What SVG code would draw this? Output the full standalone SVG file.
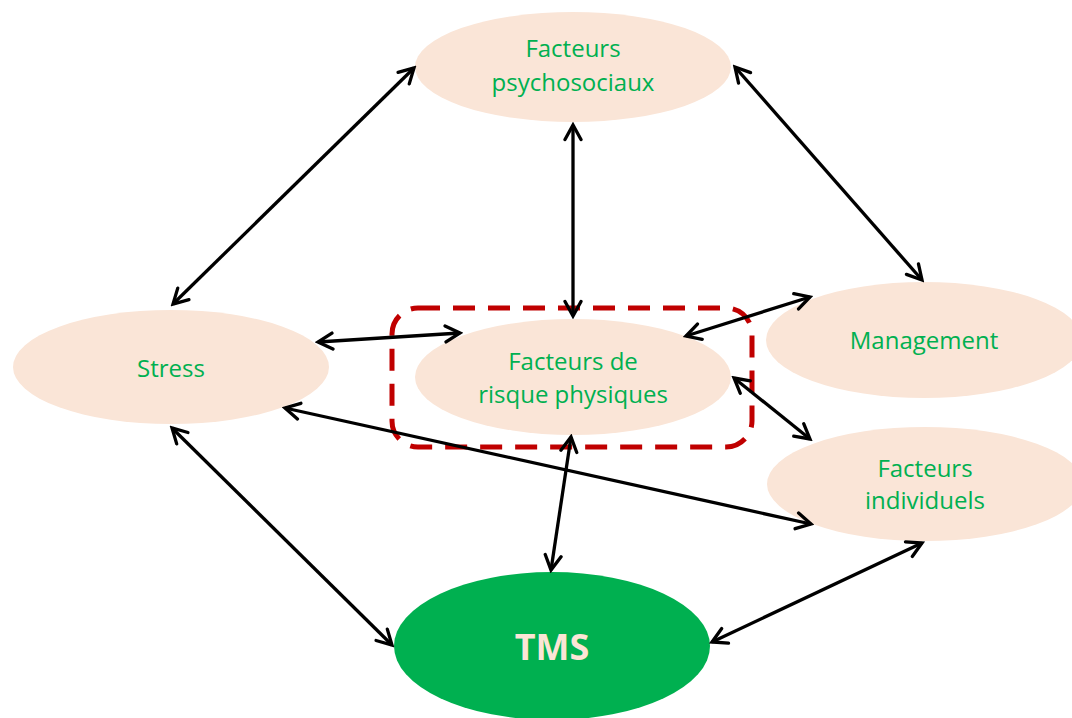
<svg xmlns="http://www.w3.org/2000/svg" width="1072" height="718" viewBox="0 0 1072 718">
<style>
.node{fill:#FAE5D7}
.lbl{font-family:"Open Sans","Liberation Sans",sans-serif;font-size:24px;fill:#00B050;text-anchor:middle}
.tms{font-family:"Open Sans","Liberation Sans",sans-serif;font-size:36px;font-weight:bold;fill:#FBE5D6;text-anchor:middle}
.conn line{stroke:#000;stroke-width:3.3;fill:none;marker-start:url(#ah);marker-end:url(#ah)}
</style>
<defs>
<marker id="ah" viewBox="0 0 20 20" markerWidth="20" markerHeight="20" refX="17" refY="10" markerUnits="userSpaceOnUse" orient="auto-start-reverse">
<path d="M2.5,2 L17,10 L2.5,18" fill="none" stroke="#000" stroke-width="3.3" stroke-linecap="round" stroke-linejoin="miter"/>
</marker>
</defs>
<rect width="1072" height="718" fill="#fff"/>
<g id="psycho"><ellipse class="node" cx="573" cy="67" rx="158" ry="55"/><text class="lbl" x="573" y="57">Facteurs</text><text class="lbl" x="573" y="91">psychosociaux</text></g>
<g id="stress"><ellipse class="node" cx="171" cy="367" rx="158" ry="57"/><text class="lbl" x="171" y="377">Stress</text></g>
<g id="physique"><ellipse class="node" cx="573" cy="377" rx="158" ry="58"/><text class="lbl" x="573" y="370">Facteurs de</text><text class="lbl" x="573" y="403">risque physiques</text></g>
<g id="management"><ellipse class="node" cx="924" cy="340" rx="158" ry="58"/><text class="lbl" x="924" y="349">Management</text></g>
<g id="individuels"><ellipse class="node" cx="925" cy="484" rx="158" ry="57"/><text class="lbl" x="925" y="477">Facteurs</text><text class="lbl" x="925" y="509">individuels</text></g>
<g id="tms"><ellipse cx="552" cy="646" rx="158" ry="74" fill="#00B050"/><text class="tms" x="552" y="660">TMS</text></g>
<g id="zone"><rect x="392" y="308" width="360" height="139" rx="26" ry="26" fill="none" stroke="#C00000" stroke-width="5" stroke-dasharray="22 13"/></g>
<g class="conn">
<line x1="173" y1="304" x2="414" y2="68"/>
<line x1="573" y1="125" x2="573" y2="316"/>
<line x1="735" y1="67" x2="922" y2="280"/>
<line x1="318" y1="342" x2="460" y2="333"/>
<line x1="686" y1="336" x2="810" y2="297"/>
<line x1="734" y1="378" x2="810" y2="439"/>
<line x1="285" y1="408" x2="811" y2="524"/>
<line x1="571" y1="437" x2="551" y2="570"/>
<line x1="172" y1="428" x2="392" y2="645"/>
<line x1="712" y1="642" x2="922" y2="543"/>
</g>
</svg>
